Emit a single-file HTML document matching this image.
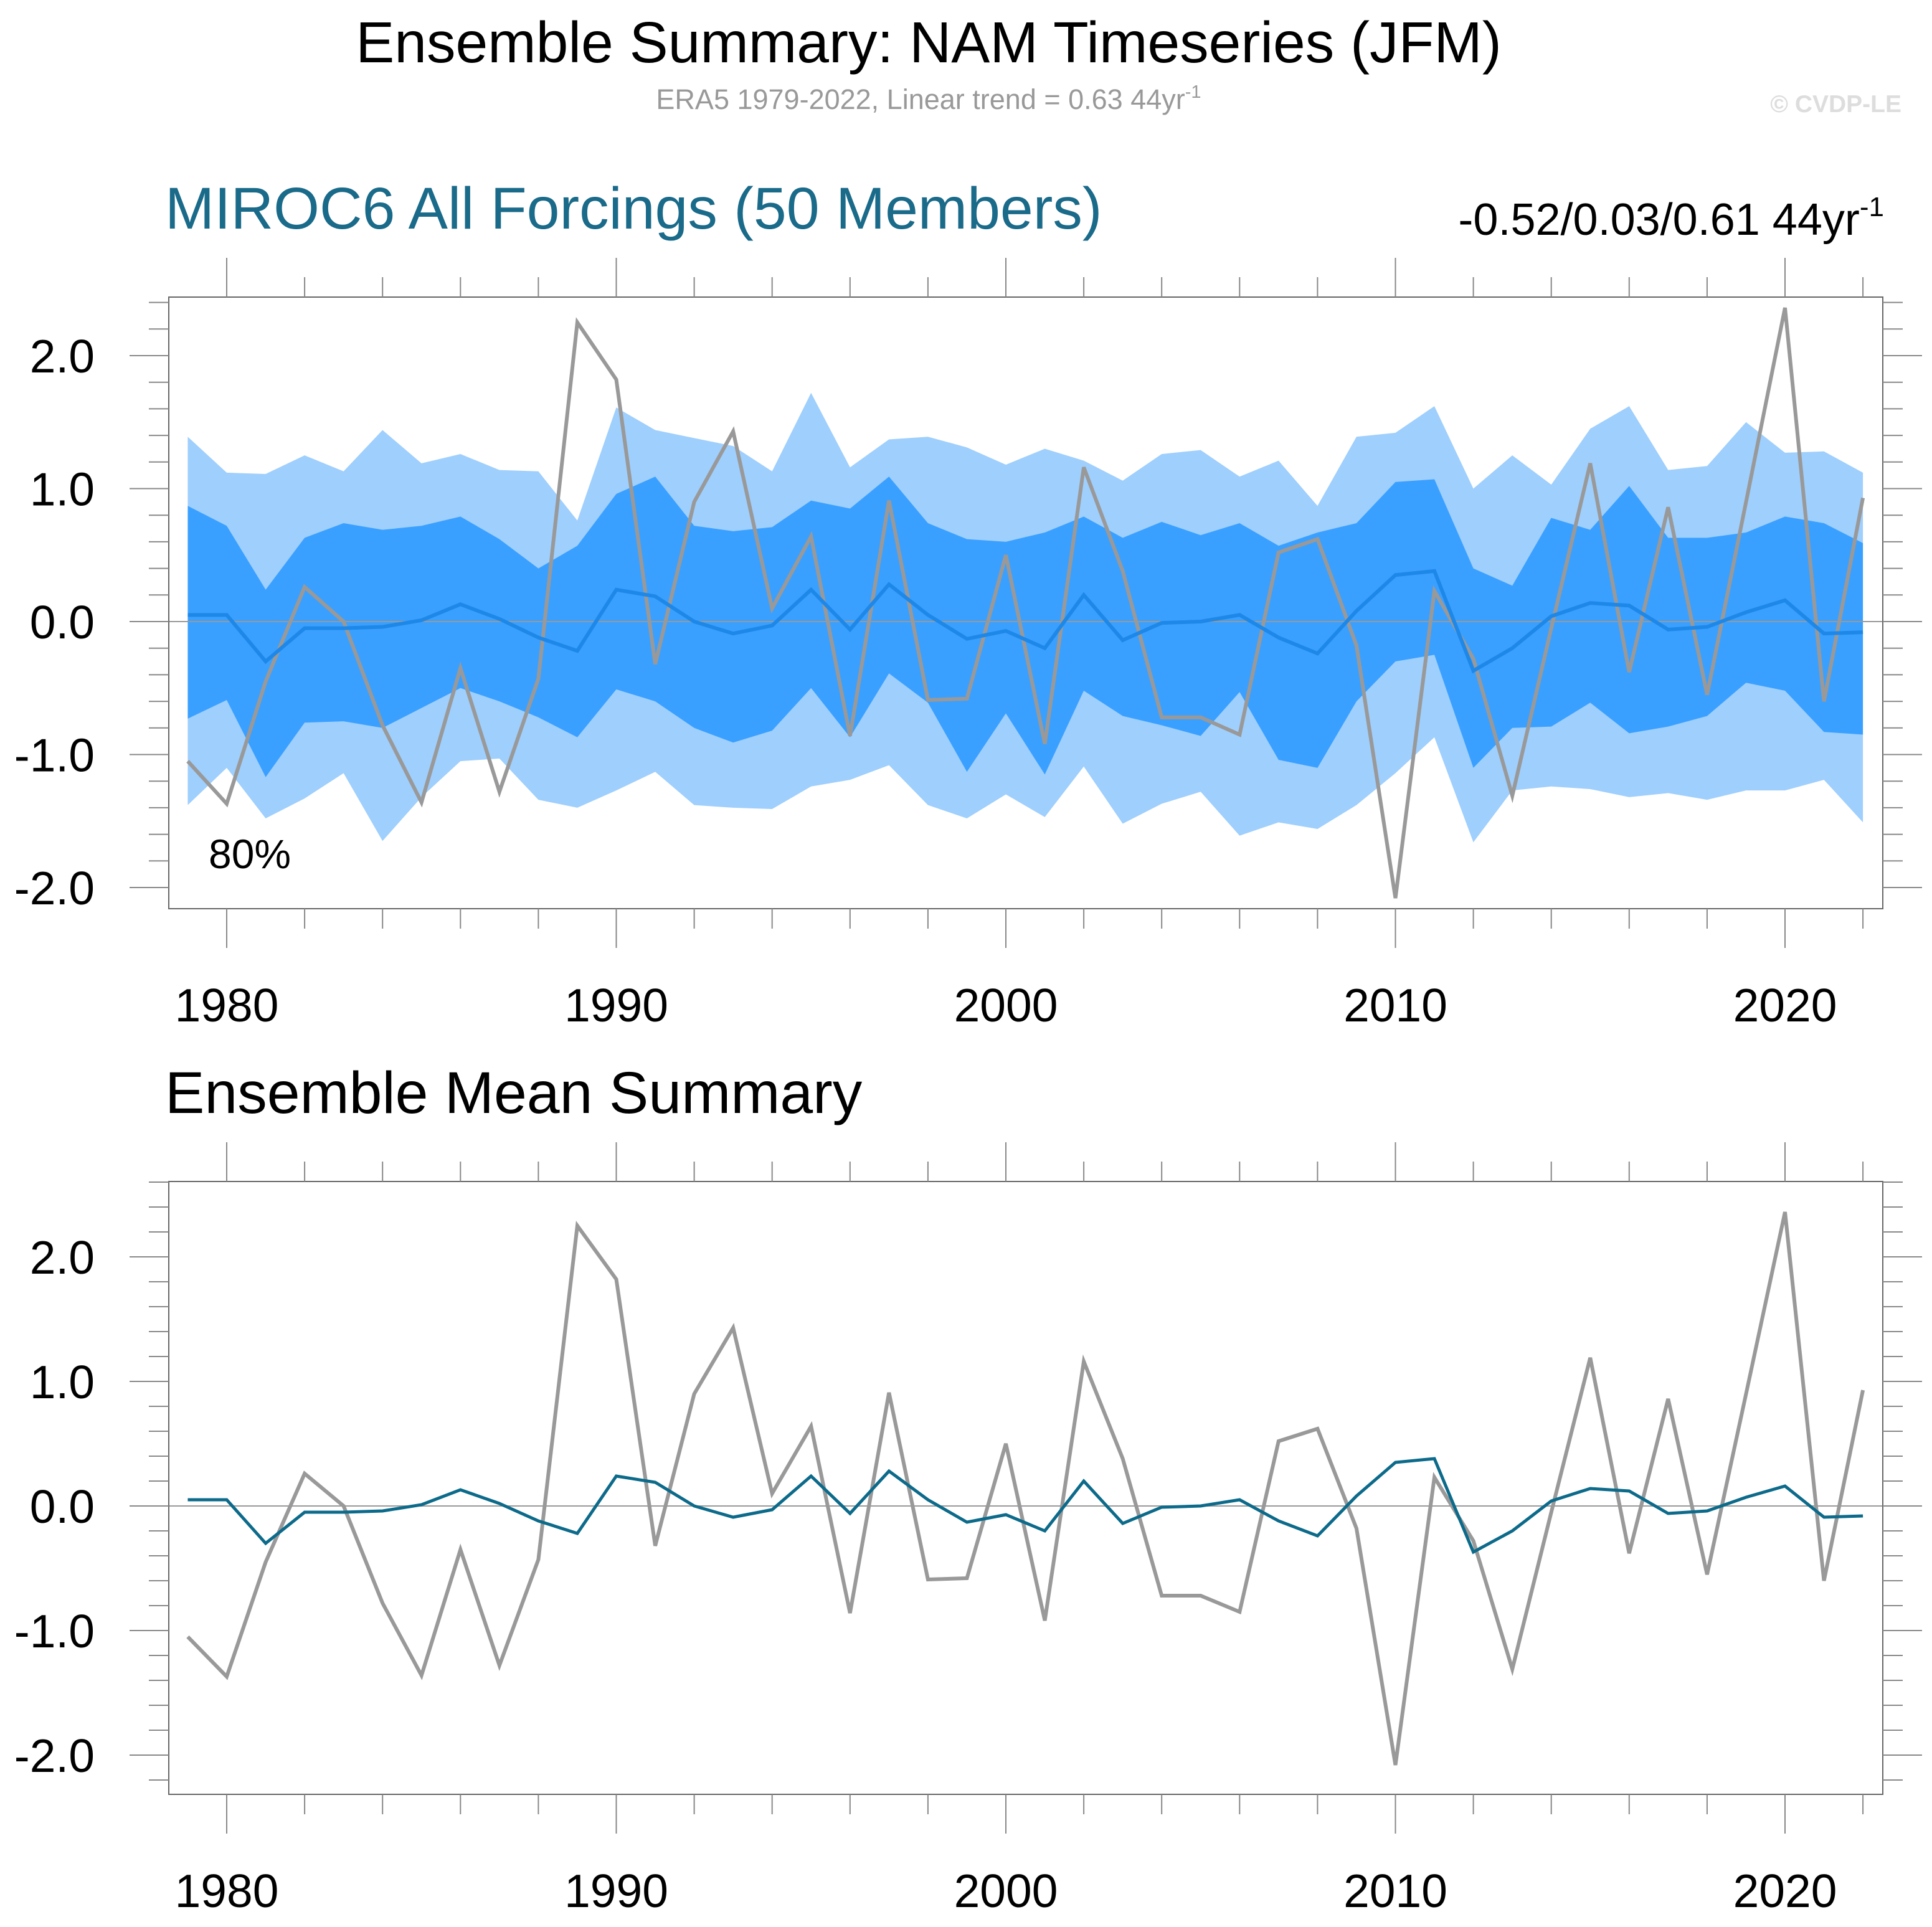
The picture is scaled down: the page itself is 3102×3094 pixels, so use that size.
<!DOCTYPE html>
<html><head><meta charset="utf-8"><style>
html,body{margin:0;padding:0;background:#fff;}
svg{display:block;font-family:"Liberation Sans",sans-serif;}
</style></head><body>
<svg id="chart" width="3102" height="3094" viewBox="0 0 3102 3094" xmlns="http://www.w3.org/2000/svg">
<text x="1491" y="100" font-size="93" text-anchor="middle" fill="#000">Ensemble Summary: NAM Timeseries (JFM)</text>
<text x="1491" y="175" font-size="45" text-anchor="middle" fill="#999">ERA5 1979-2022, Linear trend = 0.63 44yr<tspan font-size="29" dy="-18">-1</tspan></text>
<text x="3053" y="180" font-size="39" font-weight="bold" text-anchor="end" fill="#ddd">© CVDP-LE</text>
<text x="265" y="367" font-size="95" fill="#1a6a8a">MIROC6 All Forcings (50 Members)</text>
<text x="3025" y="377" font-size="72" text-anchor="end" fill="#000">-0.52/0.03/0.61 44yr<tspan font-size="44" dy="-30">-1</tspan></text>
<text x="265" y="1787" font-size="95" fill="#000">Ensemble Mean Summary</text>
<g id="top"></g><g id="bot"></g>
</svg>
<script>
const years=[];for(let y=1979;y<=2022;y++)years.push(y);
const era5=[-1.05,-1.37,-0.45,0.26,0.0,-0.78,-1.36,-0.35,-1.28,-0.43,2.25,1.82,-0.32,0.9,1.43,0.1,0.64,-0.86,0.91,-0.59,-0.58,0.5,-0.92,1.16,0.38,-0.72,-0.72,-0.85,0.52,0.62,-0.18,-2.08,0.23,-0.28,-1.31,-0.05,1.19,-0.38,0.86,-0.55,0.9,2.36,-0.6,0.93];
const ensMean=[0.05,0.05,-0.3,-0.05,-0.05,-0.04,0.01,0.13,0.02,-0.12,-0.22,0.24,0.19,0.0,-0.09,-0.03,0.24,-0.06,0.28,0.05,-0.13,-0.07,-0.2,0.2,-0.14,-0.01,0.0,0.05,-0.12,-0.24,0.08,0.35,0.38,-0.37,-0.2,0.04,0.14,0.12,-0.06,-0.04,0.07,0.16,-0.09,-0.08];
const outerHi=[1.39,1.12,1.11,1.25,1.13,1.44,1.19,1.26,1.14,1.13,0.76,1.61,1.44,1.38,1.32,1.13,1.72,1.16,1.37,1.39,1.31,1.18,1.30,1.21,1.06,1.26,1.29,1.09,1.21,0.87,1.39,1.42,1.62,1.0,1.25,1.03,1.45,1.62,1.14,1.17,1.5,1.27,1.28,1.12];
const innerHi=[0.87,0.72,0.24,0.63,0.74,0.69,0.72,0.79,0.62,0.4,0.57,0.96,1.09,0.72,0.68,0.71,0.91,0.85,1.09,0.74,0.62,0.6,0.67,0.79,0.63,0.75,0.65,0.74,0.57,0.67,0.74,1.05,1.07,0.4,0.27,0.78,0.69,1.02,0.63,0.63,0.67,0.79,0.74,0.59];
const innerLo=[-0.73,-0.59,-1.17,-0.76,-0.75,-0.8,-0.65,-0.5,-0.6,-0.72,-0.87,-0.51,-0.6,-0.8,-0.91,-0.82,-0.5,-0.87,-0.39,-0.61,-1.13,-0.69,-1.15,-0.52,-0.71,-0.78,-0.86,-0.53,-1.04,-1.1,-0.6,-0.3,-0.25,-1.1,-0.8,-0.79,-0.61,-0.84,-0.79,-0.71,-0.46,-0.52,-0.83,-0.85];
const outerLo=[-1.38,-1.1,-1.48,-1.33,-1.14,-1.65,-1.32,-1.05,-1.03,-1.34,-1.4,-1.27,-1.13,-1.38,-1.4,-1.41,-1.24,-1.19,-1.08,-1.38,-1.48,-1.3,-1.47,-1.09,-1.52,-1.37,-1.28,-1.61,-1.51,-1.56,-1.38,-1.14,-0.87,-1.66,-1.27,-1.24,-1.26,-1.32,-1.29,-1.34,-1.27,-1.27,-1.19,-1.51];
const yTickVals=[2.0,1.0,0.0,-1.0,-2.0];
const yTickLabels=["2.0","1.0","0.0","-1.0","-2.0"];
const xTickYears=[1980,1990,2000,2010,2020];
const xTickLabels=["1980","1990","2000","2010","2020"];

const NS="http://www.w3.org/2000/svg";
function mk(parent,tag,attrs){const e=document.createElementNS(NS,tag);for(const k in attrs)e.setAttribute(k,attrs[k]);parent.appendChild(e);return e;}
const X=yr=>364+(yr-1980)*62.55;
const L=271,R=3023;

function panel(g,top,bottom,y0,unit,bands,meanColor,meanW,labelY,pref){
  const Y=v=>y0-v*unit;
  const vTop=(y0-top)/unit, vBot=(y0-bottom)/unit;
  if(bands){
    const poly=(hi,lo,col,name)=>{
      let pts=years.map((yr,i)=>X(yr)+","+Y(hi[i]));
      pts=pts.concat(years.slice().reverse().map((yr,j)=>X(yr)+","+Y(lo[years.length-1-j])));
      const p=mk(g,'polygon',{points:pts.join(' '),fill:col});
      
      
    };
    poly(outerHi,outerLo,'#9fcffd','outer-band-10-90');
    poly(innerHi,innerLo,'#3aa0ff','inner-band-25-75');
  }
  const z=mk(g,'line',{x1:L,x2:R,y1:Y(0),y2:Y(0),stroke:'#999','stroke-width':2});
  
  
  const lineOf=(arr,col,w,name)=>{
    const p=mk(g,'polyline',{points:years.map((yr,i)=>X(yr)+","+Y(arr[i])).join(' '),fill:'none',stroke:col,'stroke-width':w,'stroke-linejoin':'miter'});
    
    
  };
  lineOf(era5,'#999',6,pref+'-era5-line');
  lineOf(ensMean,meanColor,meanW,pref+'-ensemble-mean-line');
  const fr=mk(g,'rect',{x:L,y:top,width:R-L,height:bottom-top,fill:'none',stroke:'#666','stroke-width':2});
  
  
  for(let k=-30;k<=30;k++){
    const v=k/5; if(v>vTop+0.001||v<vBot-0.001)continue;
    const major=(k%5===0);const len=major?63:32;const y=Y(v);
    mk(g,'line',{x1:L-len,x2:L,y1:y,y2:y,stroke:'#888','stroke-width':2});
    mk(g,'line',{x1:R,x2:R+len,y1:y,y2:y,stroke:'#888','stroke-width':2});
  }
  yTickVals.forEach((v,i)=>{
    const t=mk(g,'text',{x:152,y:Y(v)+27,'font-size':75,'text-anchor':'end',fill:'#000'});
    t.textContent=yTickLabels[i];
    
    
  });
  for(let yr=1980;yr<=2022;yr+=2){
    const major=(yr%10===0);const len=major?63:32;const x=X(yr);
    mk(g,'line',{x1:x,x2:x,y1:top-len,y2:top,stroke:'#888','stroke-width':2});
    mk(g,'line',{x1:x,x2:x,y1:bottom,y2:bottom+len,stroke:'#888','stroke-width':2});
  }
  xTickYears.forEach((yr,i)=>{
    const t=mk(g,'text',{x:X(yr),y:labelY,'font-size':75,'text-anchor':'middle',fill:'#000'});
    t.textContent=xTickLabels[i];
    
    
  });
}
const gt=document.getElementById('top');


panel(gt,477,1459,998,213.5,true,'#1e88e8',6,1640,'top');
const p80=mk(gt,'text',{x:335,y:1394,'font-size':66,fill:'#000'});p80.textContent='80%';


const gb=document.getElementById('bot');


panel(gb,1897,2881,2418,200,false,'#0c6a8a',5,3062,'bottom');
</script>
</body></html>
